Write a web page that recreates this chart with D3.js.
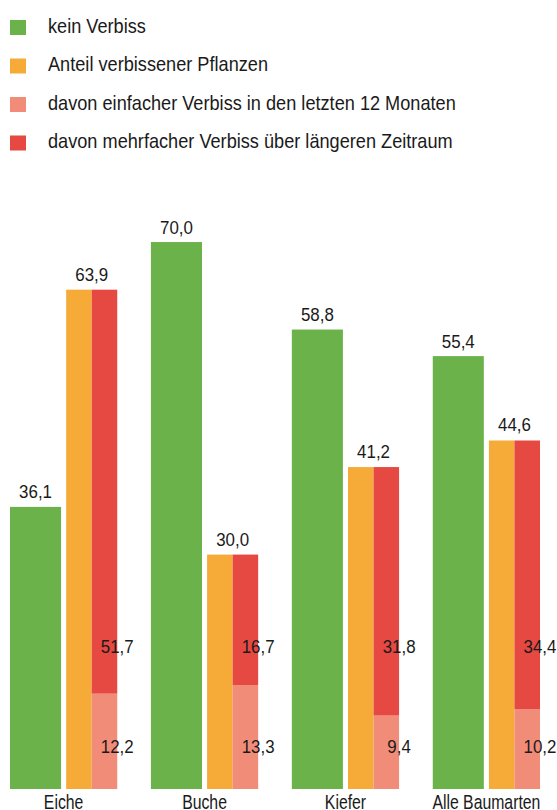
<!DOCTYPE html>
<html><head><meta charset="utf-8">
<script src="https://cdn.jsdelivr.net/npm/d3@7"></script>
<style>
html,body{margin:0;padding:0;background:#fff;}
svg text{font-family:"Liberation Sans",Arial,sans-serif;fill:#1a1a1a;}
</style></head>
<body><svg id="c" width="557" height="810"></svg>
<script>
const categories = ["Eiche","Buche","Kiefer","Alle Baumarten"];
const keinVerbiss = [36.1,70.0,58.8,55.4];
const anteilVerbissen = [63.9,30.0,41.2,44.6];
const einfacherVerbiss = [12.2,13.3,9.4,10.2];
const mehrfacherVerbiss = [51.7,16.7,31.8,34.4];
const seriesNames = ["kein Verbiss","Anteil verbissener Pflanzen","davon einfacher Verbiss in den letzten 12 Monaten","davon mehrfacher Verbiss über längeren Zeitraum"];
const seriesColors = ["#6cb24b","#f6aa37","#f08c78","#e64842"];

const svg = d3.select("#c");
const fmt = v => d3.format(".1f")(v).replace(".",",");
const base = 789;
const y = d3.scaleLinear().domain([0,100]).range([base, 7.6]);
const x = d3.scaleBand().domain(categories).range([10,540]).paddingInner(0.239).paddingOuter(0);
const bw = x.bandwidth();
const x1 = d3.scaleLinear().domain([0,4.2]).range([0,bw]);

// condensed text helper
function ctext(sel, fx, fy, size, sx, anchor, txt){
  return sel.append("text")
    .attr("transform",(d,i)=>`translate(${fx(d,i)},${fy(d,i)}) scale(${sx},1)`)
    .attr("text-anchor",anchor).attr("font-size",size).text(txt);
}

// legend
const leg = svg.append("g").selectAll("g").data(seriesNames).join("g")
  .attr("transform",(d,i)=>`translate(10,${20+i*38.5})`);
leg.append("rect").attr("width",16).attr("height",15).attr("fill",(d,i)=>seriesColors[i]);
ctext(leg, ()=>38, ()=>12.5, 20.5, 0.886, "start", d=>d);

const g = svg.append("g").selectAll("g").data(categories).join("g")
  .attr("transform",d=>`translate(${x(d)},0)`);

const VS = 19, VX = 0.89;
// green
g.append("rect").attr("x",x1(0)).attr("width",x1(2)-x1(0))
  .attr("y",(d,i)=>y(keinVerbiss[i])).attr("height",(d,i)=>y(0)-y(keinVerbiss[i])).attr("fill",seriesColors[0]);
ctext(g, ()=>x1(1), (d,i)=>y(keinVerbiss[i])-8.5, VS, VX, "middle", (d,i)=>fmt(keinVerbiss[i]));
// orange
g.append("rect").attr("x",x1(2.2)).attr("width",x1(1)-x1(0))
  .attr("y",(d,i)=>y(anteilVerbissen[i])).attr("height",(d,i)=>y(0)-y(anteilVerbissen[i])).attr("fill",seriesColors[1]);
ctext(g, ()=>x1(3.2), (d,i)=>y(anteilVerbissen[i])-9, VS, VX, "middle", (d,i)=>fmt(anteilVerbissen[i]));
// stacked
g.append("rect").attr("x",x1(3.2)).attr("width",x1(1)-x1(0))
  .attr("y",(d,i)=>y(einfacherVerbiss[i])).attr("height",(d,i)=>y(0)-y(einfacherVerbiss[i])).attr("fill",seriesColors[2]);
g.append("rect").attr("x",x1(3.2)).attr("width",x1(1)-x1(0))
  .attr("y",(d,i)=>y(einfacherVerbiss[i]+mehrfacherVerbiss[i])).attr("height",(d,i)=>y(einfacherVerbiss[i])-y(einfacherVerbiss[i]+mehrfacherVerbiss[i])).attr("fill",seriesColors[3]);
ctext(g, ()=>x1(4.2), ()=>base-36, VS, VX, "middle", (d,i)=>fmt(einfacherVerbiss[i]));
ctext(g, ()=>x1(4.2), ()=>base-136, VS, VX, "middle", (d,i)=>fmt(mehrfacherVerbiss[i]));

// category labels
ctext(g, ()=>bw/2, ()=>808.5, 19.5, 0.81, "middle", d=>d);
</script></body></html>
